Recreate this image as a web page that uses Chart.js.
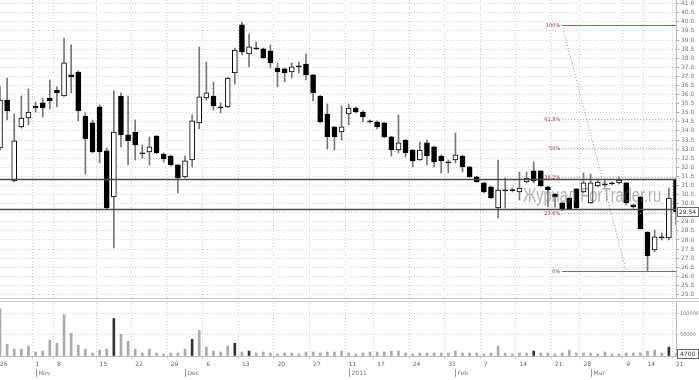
<!DOCTYPE html>
<html>
<head>
<meta charset="utf-8">
<script src="https://cdn.jsdelivr.net/npm/chart.js@4.4.1/dist/chart.umd.min.js"></script>
<style>
  html, body { margin: 0; padding: 0; background: #fff; }
  #wrap { position: relative; width: 699px; height: 380px; overflow: hidden; }
  #price { position: absolute; left: 0; top: 0; }
  #vol { position: absolute; left: 0; top: 300px; }
</style>
</head>
<body>
<div id="wrap">
  <canvas id="price" width="699" height="300"></canvas>
  <canvas id="vol" width="699" height="80"></canvas>
</div>
<script>
// candles (oldest first)
const opens = [33.06,35.70,31.25,34.22,34.71,35.37,35.54,35.81,36.25,35.92,
  37.08,37.24,34.82,34.44,35.32,32.90,30.37,35.92,33.78,33.94,
  32.79,32.84,33.72,32.73,32.62,32.13,31.47,32.40,34.44,35.81,
  35.92,35.32,35.32,37.19,39.83,38.23,38.56,38.51,38.40,37.46,
  37.41,37.24,37.57,37.68,37.08,35.92,34.93,34.22,33.94,34.93,
  35.26,35.04,34.55,34.49,34.44,33.67,32.95,33.50,32.95,32.40,
  33.34,33.12,32.62,32.29,32.40,32.62,32.02,31.47,31.14,30.92,
  29.76,30.75,30.75,30.64,31.19,31.80,31.80,30.92,30.53,30.04,
  30.31,30.81,30.64,30.04,30.97,31.08,31.14,31.14,31.14,29.93,
  30.37,28.44,27.45,28.17,28.11,31.30];
const highs = [36.42,36.91,34.93,35.92,36.31,35.59,35.81,36.80,36.42,39.11,
  38.73,37.30,34.99,34.60,35.43,33.06,36.20,36.09,35.92,34.60,
  33.23,33.67,33.75,32.79,32.68,32.15,32.62,34.88,38.62,37.79,
  36.69,35.54,36.95,38.56,39.99,39.33,38.89,38.56,38.73,37.74,
  37.46,37.74,37.79,38.23,37.10,35.95,35.48,34.25,35.37,35.48,
  35.32,35.10,34.60,34.55,34.46,33.70,34.88,33.52,32.97,33.39,
  33.50,33.15,32.68,32.40,33.89,32.68,32.05,31.50,31.16,30.95,
  32.40,31.41,30.86,31.74,31.74,32.29,31.82,30.95,30.55,30.06,
  30.33,30.83,31.69,31.63,31.30,31.30,31.19,31.47,31.16,29.95,
  30.39,28.46,28.55,28.39,30.86,31.41];
const lows = [32.95,34.60,31.19,34.16,34.33,35.04,34.77,35.21,35.32,35.90,
  36.09,34.55,31.63,32.78,32.24,29.70,27.56,33.12,32.13,32.40,
  32.51,32.13,32.75,32.29,32.07,30.59,31.41,32.02,34.11,35.70,
  35.15,34.99,35.28,36.58,38.18,37.52,38.45,37.99,37.46,36.42,
  36.69,36.91,37.19,36.80,35.65,34.45,33.00,32.95,33.50,34.33,
  34.99,34.49,34.44,34.11,33.61,32.62,32.79,32.57,32.02,32.38,
  32.13,32.02,31.69,31.69,32.24,31.74,31.45,31.17,30.59,30.29,
  29.21,29.76,30.64,30.20,31.14,31.14,30.95,29.82,29.82,29.63,
  29.69,29.74,30.59,30.02,30.92,30.92,31.03,31.08,29.93,29.76,
  28.59,26.30,27.34,28.00,28.00,28.83];
const closes = [35.70,35.10,33.45,34.71,35.04,35.26,35.26,35.65,36.09,37.74,
  36.97,35.10,33.56,32.84,32.84,29.76,33.94,33.78,33.45,33.23,
  32.73,33.12,32.79,32.46,32.13,31.41,32.35,34.55,35.87,36.09,
  35.37,35.26,36.91,38.45,38.34,38.62,38.51,38.01,37.74,37.24,
  37.19,37.52,37.52,37.08,36.09,34.49,33.67,33.67,34.22,35.26,
  35.04,34.77,34.49,34.22,33.67,32.95,33.34,32.79,32.35,32.95,
  32.62,32.29,32.35,32.24,32.68,32.02,31.47,31.19,30.64,30.31,
  30.75,30.70,30.72,30.86,31.41,31.25,30.97,30.75,30.37,29.65,
  29.71,29.76,31.14,31.14,31.19,31.03,31.08,31.30,30.04,29.82,
  28.61,27.12,28.17,28.11,30.31,29.54];
const volumes = [111000,27900,16300,16300,23300,9300,11600,37200,30200,97700,
  53500,25600,16300,7000,14000,16300,88400,51200,34900,16300,
  7000,16300,7000,4700,7000,7000,16300,39500,60500,20900,
  11600,9300,23300,30200,9300,11600,7000,9300,7000,4700,
  7000,7000,4700,9300,9300,7000,9300,9300,11600,7000,
  4700,7000,9300,9300,9300,11600,11600,7000,4700,7000,
  7000,7000,7000,7000,11600,7000,7000,7000,4700,7000,
  23300,7000,4700,7000,7000,11600,7000,7000,4700,7000,
  14000,7000,7000,7000,4700,9300,4700,4700,7000,7000,
  7000,11600,14000,7000,21000,4700];
const darkVol = [16, 27, 33, 35, 75, 94];

// date ticks (candle index -> label)
const tickIdx = [0,5,8,14,19,24,29,34,39,44,49,53,58,63,68,73,78,82,88,91,95];
const tickText = ['26','1','8','15','22','29','6','13','20','27','11','17','24','31','7','14','21','28','9','14','21'];
const monthIdx = [5,26,49,64,83];
const monthText = ['Nov','Dec','2011','Feb','Mar'];
const volTicks = [50000, 100000];

// drawn levels
const hLevels = [31.36, 29.71];
const fibHigh = 39.83, fibLow = 26.30, fibFrom = 79, fibTo = 88;
const fibRatios = [1, 0.618, 0.5, 0.382, 0.236, 0];
const fibText = ['100%', '61.8%', '50%', '38.2%', '23.6%', '0%'];

const idx = opens.map((_, i) => i);
const bodies = idx.map(i => [opens[i], closes[i]]);
const wicks = idx.map(i => [lows[i], highs[i]]);
const tinyFont = { family: 'DejaVu Sans', size: 6 };
const noPad = s => { s.paddingTop = 0; s.paddingBottom = 0; s.paddingLeft = 0; s.paddingRight = 0; };

const priceOverlay = {
  id: 'priceOverlay',
  afterDatasetsDraw(chart) {
    const { ctx, chartArea: a, scales: { x, y } } = chart;
    ctx.save();
    ctx.beginPath();
    ctx.rect(a.left, a.top, a.right - a.left, a.bottom - a.top);
    ctx.clip();

    // support / resistance lines
    ctx.strokeStyle = '#4a4a4a';
    ctx.lineWidth = 1.5;
    hLevels.forEach(v => {
      const py = Math.round(y.getPixelForValue(v)) + 0.5;
      ctx.beginPath(); ctx.moveTo(a.left, py); ctx.lineTo(a.right, py); ctx.stroke();
    });

    // fibonacci
    const fx = x.getPixelForValue(fibFrom);
    fibRatios.forEach((r, k) => {
      const v = fibLow + (fibHigh - fibLow) * r;
      const py = Math.round(y.getPixelForValue(v)) + 0.5;
      const solid = r === 1 || r === 0;
      ctx.setLineDash(solid ? [] : [1, 2]);
      ctx.strokeStyle = solid ? '#d04848' : '#c09a9a';
      ctx.lineWidth = 1;
      ctx.beginPath();
      ctx.moveTo(fx, py); ctx.lineTo(a.right, py); ctx.stroke();
      ctx.setLineDash([]);
      ctx.fillStyle = '#a03030';
      ctx.font = '5px "DejaVu Sans"';
      ctx.textAlign = 'right';
      ctx.textBaseline = 'middle';
      ctx.fillText(fibText[k], fx - 2, py);
    });
    ctx.setLineDash([1, 2]);
    ctx.strokeStyle = '#888';
    ctx.lineWidth = 1;
    ctx.beginPath();
    ctx.moveTo(fx, y.getPixelForValue(fibHigh));
    ctx.lineTo(x.getPixelForValue(fibTo), y.getPixelForValue(fibLow));
    ctx.stroke();
    ctx.setLineDash([]);

    // watermark
    const wm = 'Журнал ForTrader.ru';
    ctx.font = '20px "Liberation Sans"';
    const w = ctx.measureText(wm).width;
    ctx.translate(523, 202);
    ctx.scale(138 / w, 1);
    ctx.fillStyle = 'rgba(100,100,100,0.5)';
    ctx.textAlign = 'left';
    ctx.textBaseline = 'alphabetic';
    ctx.fillText(wm, 0, 0);
    ctx.restore();

    // last price box on axis
    const last = closes[closes.length - 1];
    const ly = Math.round(y.getPixelForValue(last));
    ctx.save();
    ctx.fillStyle = '#fff';
    ctx.strokeStyle = '#666';
    ctx.lineWidth = 1;
    ctx.fillRect(677.5, ly - 4.5, 21, 9);
    ctx.strokeRect(677.5, ly - 4.5, 21, 9);
    ctx.fillStyle = '#333';
    ctx.font = '6px "DejaVu Sans"';
    ctx.textAlign = 'left';
    ctx.textBaseline = 'middle';
    ctx.fillText(last.toFixed(2), 679, ly);
    ctx.strokeStyle = '#c8c8c8';
    ctx.beginPath(); ctx.moveTo(0, 298.5); ctx.lineTo(699, 298.5); ctx.stroke();
    ctx.restore();
  }
};

new Chart(document.getElementById('price'), {
  type: 'bar',
  data: {
    labels: idx,
    datasets: [
      {
        data: bodies,
        barThickness: 5,
        grouped: false,
        order: 0,
        minBarLength: 1,
        borderSkipped: false,
        borderWidth: 1,
        borderColor: '#000',
        backgroundColor: c => closes[c.dataIndex] < opens[c.dataIndex] ? '#000' : '#fff'
      },
      {
        data: wicks,
        barThickness: 1,
        grouped: false,
        order: 1,
        borderWidth: 0,
        backgroundColor: '#777'
      }
    ]
  },
  options: {
    responsive: false,
    animation: false,
    devicePixelRatio: 1,
    layout: { padding: { top: 0, bottom: 2, left: 0, right: 0 } },
    plugins: { legend: { display: false }, tooltip: { enabled: false } },
    scales: {
      x: {
        offset: false,
        ticks: { display: false, autoSkip: false },
        grid: { drawTicks: false, color: c => tickIdx.includes(c.index) ? '#cfcfcf' : 'transparent' },
        border: { display: false, dash: [1, 2] },
        afterFit: s => { s.height = 0; noPad(s); }
      },
      y: {
        position: 'right',
        min: 24.81,
        max: 41.2,
        ticks: { stepSize: 0.5, autoSkip: false, includeBounds: false, font: tinyFont, color: '#777', padding: 2,
                 callback: v => v.toFixed(1) },
        grid: { color: '#d2d2d2', tickLength: 3, tickColor: '#aaa' },
        border: { color: '#bbb', dash: [1, 2] },
        afterFit: s => { s.width = 23; noPad(s); }
      }
    }
  },
  plugins: [priceOverlay]
});

const volOverlay = {
  id: 'volOverlay',
  afterDraw(chart) {
    const { ctx, scales: { x, y } } = chart;
    ctx.save();
    ctx.strokeStyle = '#c8c8c8';
    ctx.lineWidth = 1;
    ctx.beginPath(); ctx.moveTo(0, 1.5); ctx.lineTo(699, 1.5); ctx.stroke();
    ctx.fillStyle = '#777';
    ctx.font = '6px "DejaVu Sans"';
    ctx.textAlign = 'left';
    ctx.textBaseline = 'middle';
    monthIdx.forEach((m, k) => {
      const px = Math.round(x.getPixelForValue(m)) + 0.5;
      ctx.strokeStyle = '#999';
      ctx.beginPath(); ctx.moveTo(px, 69); ctx.lineTo(px, 77); ctx.stroke();
      ctx.fillText(monthText[k], px + 2, 73);
    });
    // last volume box
    const lv = volumes[volumes.length - 1];
    const ly = Math.round(y.getPixelForValue(lv));
    ctx.fillStyle = '#fff';
    ctx.strokeStyle = '#666';
    ctx.fillRect(677.5, ly - 4.5, 21, 9);
    ctx.strokeRect(677.5, ly - 4.5, 21, 9);
    ctx.fillStyle = '#333';
    ctx.fillText(String(lv), 680, ly);
    ctx.restore();
  }
};

new Chart(document.getElementById('vol'), {
  type: 'bar',
  data: {
    labels: idx,
    datasets: [{
      data: volumes,
      barThickness: 2,
      backgroundColor: c => darkVol.includes(c.dataIndex) ? '#333' : '#aaa'
    }]
  },
  options: {
    responsive: false,
    animation: false,
    devicePixelRatio: 1,
    layout: { padding: { top: 3, bottom: 0, left: 0, right: 0 } },
    plugins: { legend: { display: false }, tooltip: { enabled: false } },
    scales: {
      x: {
        offset: false,
        ticks: {
          autoSkip: false, maxRotation: 0, align: 'start', padding: 2, font: tinyFont, color: '#666',
          callback: (v, i) => { const k = tickIdx.indexOf(i); return k < 0 ? '' : tickText[k]; }
        },
        grid: { tickLength: 3, color: c => tickIdx.includes(c.index) ? '#cfcfcf' : 'transparent' },
        border: { color: '#bbb', dash: [1, 2] },
        afterFit: s => { s.height = 24; noPad(s); }
      },
      y: {
        position: 'right',
        min: 0,
        max: 125000,
        ticks: { stepSize: 25000, autoSkip: false, includeBounds: false,
                 font: { family: 'DejaVu Sans', size: 5 }, color: '#777', padding: 1,
                 callback: v => volTicks.includes(v) ? String(v) : '' },
        grid: { color: c => volTicks.includes(c.tick && c.tick.value) ? '#d2d2d2' : 'transparent', tickLength: 3 },
        border: { color: '#bbb', dash: [1, 2] },
        afterFit: s => { s.width = 23; noPad(s); }
      }
    }
  },
  plugins: [volOverlay]
});
</script>
</body>
</html>
